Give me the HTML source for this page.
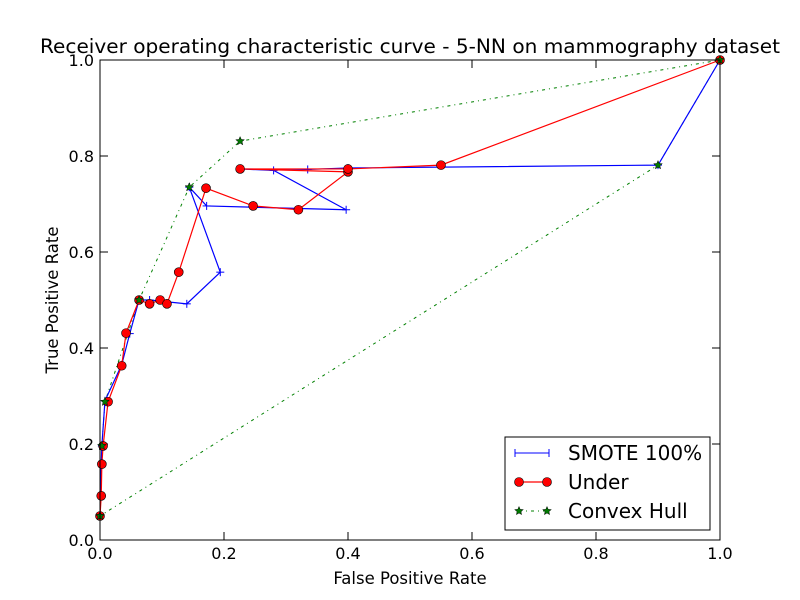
<!DOCTYPE html>
<html><head><meta charset="utf-8"><style>
body{margin:0;background:#fff;}
svg{display:block;font-family:"DejaVu Sans","Liberation Sans",sans-serif;}
</style></head><body>
<svg id="chart" width="800" height="600" xmlns="http://www.w3.org/2000/svg">
<rect width="800" height="600" fill="#fff"/>
<text x="410" y="53" font-size="19.5" text-anchor="middle" textLength="740" lengthAdjust="spacingAndGlyphs">Receiver operating characteristic curve - 5-NN on mammography dataset</text>
<text x="410" y="584" font-size="16.5" text-anchor="middle">False Positive Rate</text>
<text transform="translate(58,300) rotate(-90)" font-size="16.5" text-anchor="middle">True Positive Rate</text>
<g id="ticks"></g>
<g id="series"></g>
<rect x="100" y="60" width="620" height="480" fill="none" stroke="#000" stroke-width="1"/>
<g>
<rect x="505" y="437" width="205" height="93" fill="#fff" stroke="#000" stroke-width="1"/>
<g id="legend-marks"></g>
<text x="568" y="460" font-size="20">SMOTE 100%</text>
<text x="568" y="489" font-size="20">Under</text>
<text x="568" y="518" font-size="20">Convex Hull</text>
</g>
</svg>
<script>
const xTicks=[0,0.2,0.4,0.6,0.8,1.0];
const yTicks=[0,0.2,0.4,0.6,0.8,1.0];
const smoteX=[0,0.002,0.003,0.008,0.035,0.048,0.063,0.08,0.14,0.194,0.144,0.172,0.397,0.28,0.226,0.335,0.4,0.9,1.0];
const smoteY=[0.05,0.158,0.196,0.29,0.365,0.43,0.5,0.5,0.492,0.558,0.735,0.696,0.688,0.77,0.773,0.772,0.775,0.781,1.0];
const underX=[0,0.002,0.003,0.005,0.013,0.035,0.042,0.063,0.08,0.097,0.108,0.127,0.171,0.247,0.32,0.4,0.226,0.4,0.55,1.0];
const underY=[0.05,0.092,0.158,0.196,0.288,0.363,0.431,0.5,0.492,0.5,0.492,0.558,0.733,0.696,0.688,0.767,0.773,0.773,0.781,1.0];
const hullX=[0,0.003,0.008,0.063,0.144,0.226,1.0,0.9,0];
const hullY=[0.05,0.196,0.288,0.5,0.735,0.831,1.0,0.781,0.05];
const NS="http://www.w3.org/2000/svg";
const sx=v=>100+v*620, sy=v=>540-v*480;
function mk(t,a,p){const e=document.createElementNS(NS,t);for(const k in a)e.setAttribute(k,a[k]);p.appendChild(e);return e;}
const tg=document.getElementById('ticks');
xTicks.forEach(v=>{
 const l=mk('line',{x1:sx(v),x2:sx(v),y1:540,y2:532,stroke:'#000'},tg);
 
 
 mk('line',{x1:sx(v),x2:sx(v),y1:60,y2:68,stroke:'#000'},tg);
 const t=mk('text',{x:sx(v),y:559,'font-size':16,'text-anchor':'middle'},tg);
 t.textContent=v.toFixed(1);
 
 
});
yTicks.forEach(v=>{
 const l=mk('line',{x1:100,x2:108,y1:sy(v),y2:sy(v),stroke:'#000'},tg);
 
 
 mk('line',{x1:712,x2:720,y1:sy(v),y2:sy(v),stroke:'#000'},tg);
 const t=mk('text',{x:94,y:sy(v)+6,'font-size':16,'text-anchor':'end'},tg);
 t.textContent=v.toFixed(1);
 
 
});
const sg=document.getElementById('series');
function pts(X,Y){return X.map((x,i)=>sx(x)+','+sy(Y[i])).join(' ');}
function star(cx,cy,r,g){let p=[];for(let i=0;i<10;i++){const a=-Math.PI/2+i*Math.PI/5,rr=i%2?r*0.45:r;p.push((cx+rr*Math.cos(a)).toFixed(1)+','+(cy+rr*Math.sin(a)).toFixed(1));}return mk('polygon',{points:p.join(' '),fill:'#007a00',stroke:'#000','stroke-width':0.5},g);}
const hl=mk('polyline',{points:pts(hullX,hullY),fill:'none',stroke:'#008000','stroke-width':1,'stroke-dasharray':'3 4 1 4'},sg);


const bl=mk('polyline',{points:pts(smoteX,smoteY),fill:'none',stroke:'#0000ff','stroke-width':1.2},sg);


smoteX.forEach((x,i)=>{const g=mk('g',{},sg);
 
 
 mk('line',{x1:sx(x)-4,x2:sx(x)+4,y1:sy(smoteY[i]),y2:sy(smoteY[i]),stroke:'#0000ff'},g);
 mk('line',{x1:sx(x),x2:sx(x),y1:sy(smoteY[i])-4,y2:sy(smoteY[i])+4,stroke:'#0000ff'},g);});
const rl=mk('polyline',{points:pts(underX,underY),fill:'none',stroke:'#ff0000','stroke-width':1.2},sg);


underX.forEach((x,i)=>{const c=mk('circle',{cx:sx(x),cy:sy(underY[i]),r:4.5,fill:'#ff0000',stroke:'#000','stroke-width':0.6},sg);
 
 });
hullX.forEach((x,i)=>{const s=star(sx(x),sy(hullY[i]),4.5,sg);
 
 });
const lg=document.getElementById('legend-marks');
mk('line',{x1:515,x2:549,y1:453,y2:453,stroke:'#0000ff'},lg);
[515,549].forEach(x=>{mk('line',{x1:x,x2:x,y1:449,y2:457,stroke:'#0000ff'},lg);});
mk('line',{x1:519,x2:547,y1:482,y2:482,stroke:'#ff0000','stroke-width':1.2},lg);
[519,547].forEach(x=>mk('circle',{cx:x,cy:482,r:4.5,fill:'#ff0000',stroke:'#000','stroke-width':0.6},lg));
mk('line',{x1:519,x2:547,y1:511,y2:511,stroke:'#008000','stroke-dasharray':'3 4 1 4'},lg);
star(519,511,4.5,lg);star(547,511,4.5,lg);
</script>
</body></html>
